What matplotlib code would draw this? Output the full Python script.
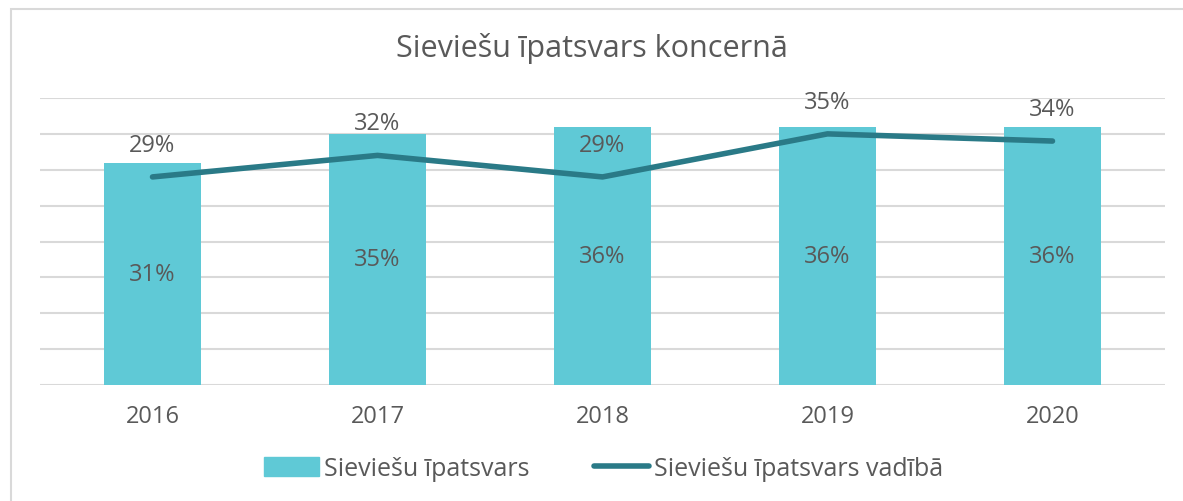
import matplotlib.pyplot as plt
from matplotlib.patches import Rectangle
from matplotlib.lines import Line2D

# data
years = ['2016', '2017', '2018', '2019', '2020']
share_total = [31, 35, 36, 36, 36]        # Sieviešu īpatsvars (bars)
share_management = [29, 32, 29, 35, 34]   # Sieviešu īpatsvars vadībā (line)

BAR_COLOR = '#5FC9D6'
LINE_COLOR = '#2A7A87'
TEXT_COLOR = '#595959'
GRID_COLOR = '#D9D9D9'

plt.rcParams['font.family'] = ['Open Sans', 'DejaVu Sans']

fig = plt.figure(figsize=(11.83, 5.02), dpi=100)
ax = fig.add_axes([40/1183, 1 - 386/502, 1125/1183, 287/502])

x = range(len(years))
ax.bar(x, share_total, width=0.43, color=BAR_COLOR, zorder=2)
ax.plot(x, share_management, color=LINE_COLOR, lw=4, solid_capstyle='round',
        zorder=3)

for i, v in enumerate(share_total):
    ax.text(i, v / 2, f'{v}%', ha='center', va='center', fontsize=17,
            color=TEXT_COLOR, zorder=4)
for i, v in enumerate(share_management):
    ax.text(i, v + 4.5, f'{v}%', ha='center', va='center', fontsize=17,
            color=TEXT_COLOR, zorder=4)

ax.set_xlim(-0.5, len(years) - 0.5)
ax.set_ylim(0, 40)
ax.set_yticks(range(0, 41, 5))
ax.yaxis.grid(True, color=GRID_COLOR, lw=1.5, zorder=0)
ax.set_axisbelow(True)
ax.tick_params(axis='y', left=False, labelleft=False)
ax.tick_params(axis='x', bottom=False, labelsize=17, labelcolor=TEXT_COLOR,
               pad=10)
ax.set_xticks(list(x))
ax.set_xticklabels(years)
for s in ax.spines.values():
    s.set_visible(False)

fig.text(0.5, 1 - 48/502, 'Sieviešu īpatsvars koncernā', ha='center',
         va='center', fontsize=22, color=TEXT_COLOR)

handles = [Rectangle((0, 0), 1, 1, color=BAR_COLOR),
           Line2D([0], [0], color=LINE_COLOR, lw=4, solid_capstyle='round')]
fig.legend(handles, ['Sieviešu īpatsvars', 'Sieviešu īpatsvars vadībā'],
           loc='center', bbox_to_anchor=(0.51, 1 - 470/502), ncol=2,
           frameon=False, fontsize=18, labelcolor=TEXT_COLOR,
           handlelength=2.2, handleheight=0.8, handletextpad=0.2,
           columnspacing=2.6)

# light frame around the chart area, running off the right/bottom edge
fig.patches.append(Rectangle((11/1183, -0.1), 1.3, 1 - 10/502 + 0.1,
                             transform=fig.transFigure, fill=False,
                             edgecolor='#D9D9D9', lw=1.5))

fig.savefig('out.png', dpi=100)
